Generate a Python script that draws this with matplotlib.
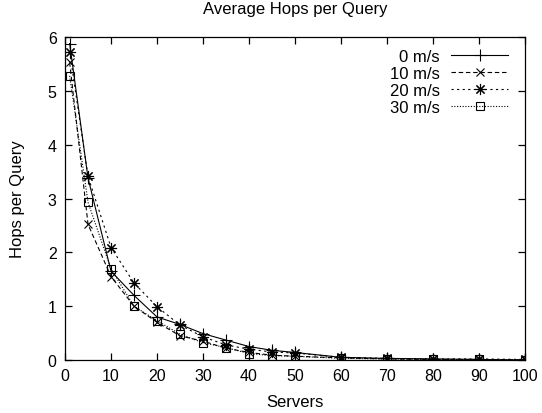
import matplotlib
matplotlib.use("Agg")
import matplotlib.pyplot as plt

# Dados: numero de servidores e saltos medios por consulta.
servers = [1, 5, 10, 15, 20, 25, 30, 35, 40, 45, 50, 60, 70, 80, 90, 100]
hops_0 = [5.88, 3.38, 1.65, 1.20, 0.80, 0.66, 0.49, 0.37, 0.25, 0.18, 0.14, 0.05, 0.03, 0.02, 0.01, 0.00]
hops_10 = [5.53, 2.52, 1.55, 1.00, 0.70, 0.45, 0.35, 0.22, 0.14, 0.09, 0.07, 0.04, 0.02, 0.01, 0.01, 0.00]
hops_20 = [5.73, 3.41, 2.09, 1.43, 0.99, 0.65, 0.43, 0.28, 0.20, 0.15, 0.13, 0.05, 0.03, 0.02, 0.02, 0.01]
hops_30 = [5.28, 2.93, 1.69, 1.00, 0.73, 0.48, 0.32, 0.23, 0.12, 0.08, 0.07, 0.03, 0.02, 0.01, 0.01, 0.00]
labels = ["0 m/s", "10 m/s", "20 m/s", "30 m/s"]

plt.rcParams["font.family"] = ["Liberation Sans", "DejaVu Sans"]
plt.rcParams["font.size"] = 12

fig = plt.figure(figsize=(5.42, 4.14), dpi=100)
ax = fig.add_axes([0.12, 0.128, 0.8486, 0.78])

ax.plot(servers, hops_0, linestyle="-", marker="+", markersize=9, color="black",
        linewidth=0.8, markeredgewidth=0.8, label=labels[0])
ax.plot(servers, hops_10, linestyle=(0, (4, 2.5)), marker="x", markersize=6, color="black",
        linewidth=0.8, markeredgewidth=0.8, label=labels[1])
ax.plot(servers, hops_20, linestyle=(0, (2, 3)), marker=(8, 2, 0), markersize=8, color="black",
        linewidth=0.8, markeredgewidth=0.8, label=labels[2])
ax.plot(servers, hops_30, linestyle=(0, (1, 1.5)), marker="s", markersize=6, color="black",
        markerfacecolor="none", linewidth=0.8, markeredgewidth=0.8, label=labels[3])

ax.set_xlim(0, 100)
ax.set_ylim(0, 6)
ax.set_xticks(range(0, 101, 10))
ax.set_yticks(range(0, 7))
ax.tick_params(direction="in", top=True, right=True, length=5, width=0.9, pad=6, labelsize=11.5)
for s in ax.spines.values():
    s.set_linewidth(0.9)

ax.set_xlabel("Servers", labelpad=8)
ax.set_ylabel("Hops per Query", labelpad=16)
ax.set_title("Average Hops per Query", fontsize=12, pad=17)

# Legenda ao estilo gnuplot: texto a direita alinhado, amostra da linha depois.
ax.legend(loc="upper right", frameon=False, markerfirst=False, handlelength=3.4,
          handletextpad=0.7, labelspacing=0.12, borderaxespad=0.2,
          bbox_to_anchor=(0.985, 0.995), fontsize=12)

fig.savefig("out.png", dpi=100)
